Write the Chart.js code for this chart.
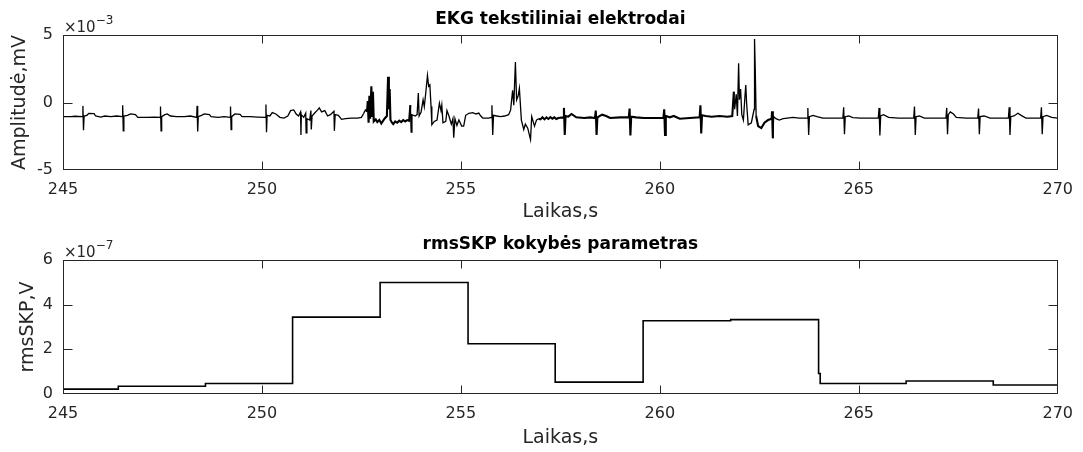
<!DOCTYPE html>
<html>
<head>
<meta charset="utf-8">
<script src="https://cdn.jsdelivr.net/npm/chart.js@4.4.1/dist/chart.umd.min.js"></script>
<style>
  html, body { margin: 0; padding: 0; background: #fff; }
  #wrap { position: relative; width: 1083px; height: 452px; }
  .pane { position: absolute; left: 0; width: 1083px; height: 226px; }
</style>
</head>
<body>
<div id="wrap">
  <div class="pane" style="top:0"><canvas id="ekgChart"></canvas></div>
  <div class="pane" style="top:226px"><canvas id="rmsChart"></canvas></div>
</div>
<script>
// ---- EKG trace: time (s) and amplitude (units of 10^-3 mV) ----
const ekgTime = [
  245.00,245.20,245.30,245.48,245.50,245.515,245.53,245.60,
  245.65,245.78,245.82,245.95,246.05,246.20,246.35,246.49,
  246.50,246.515,246.53,246.62,246.70,246.82,246.88,247.10,
  247.30,247.44,247.45,247.465,247.48,247.56,247.62,247.70,
  247.85,248.05,248.20,248.36,248.37,248.385,248.40,248.48,
  248.55,248.68,248.72,248.90,249.05,249.20,249.21,249.225,
  249.24,249.32,249.45,249.50,249.70,249.90,250.09,250.10,
  250.115,250.13,250.20,250.26,250.35,250.45,250.55,250.65,
  250.72,250.80,250.86,250.92,250.97,250.98,250.99,251.05,
  251.10,251.11,251.13,251.20,251.23,251.24,251.26,251.32,
  251.40,251.44,251.50,251.58,251.65,251.72,251.81,251.82,
  251.84,251.92,252.00,252.10,252.25,252.40,252.50,252.56,
  252.60,252.64,252.66,252.68,252.70,252.72,252.75,252.77,
  252.79,252.81,252.86,252.90,252.95,253.00,253.08,253.14,
  253.17,253.19,253.21,253.23,253.27,253.30,253.35,253.40,
  253.45,253.50,253.55,253.60,253.65,253.70,253.73,253.75,
  253.77,253.85,253.90,253.93,253.95,254.00,254.05,254.08,
  254.12,254.16,254.19,254.22,254.25,254.27,254.33,254.40,
  254.46,254.50,254.52,254.55,254.62,254.65,254.70,254.76,
  254.80,254.82,254.85,254.90,254.95,255.02,255.07,255.12,
  255.20,255.30,255.38,255.45,255.50,255.55,255.70,255.77,
  255.78,255.80,255.82,255.90,256.00,256.10,256.20,256.25,
  256.30,256.33,256.37,256.40,256.44,256.47,256.52,256.58,
  256.62,256.68,256.75,256.78,256.85,256.90,256.95,257.00,
  257.05,257.10,257.15,257.20,257.25,257.30,257.35,257.40,
  257.45,257.57,257.59,257.61,257.63,257.70,257.78,257.90,
  258.10,258.25,258.37,258.39,258.41,258.43,258.55,258.65,
  258.75,259.00,259.22,259.24,259.26,259.28,259.40,259.60,
  259.85,260.09,260.11,260.13,260.15,260.25,260.35,260.50,
  260.75,261.00,261.02,261.04,261.06,261.15,261.30,261.50,
  261.70,261.82,261.86,261.88,261.92,261.95,261.98,262.00,
  262.03,262.06,262.10,262.14,262.16,262.18,262.22,262.30,
  262.37,262.38,262.40,262.42,262.47,262.55,262.63,262.72,
  262.81,262.82,262.84,262.86,262.92,263.00,263.10,263.20,
  263.35,263.50,263.70,263.72,263.74,263.76,263.85,263.95,
  264.10,264.35,264.60,264.62,264.64,264.66,264.75,264.85,
  265.05,265.30,265.49,265.51,265.53,265.55,265.62,265.75,
  266.00,266.20,266.38,266.40,266.42,266.44,266.52,266.65,
  266.90,267.19,267.21,267.23,267.25,267.30,267.38,267.45,
  267.70,267.99,268.01,268.03,268.05,268.15,268.30,268.55,
  268.76,268.78,268.80,268.82,268.90,269.00,269.08,269.20,
  269.40,269.57,269.59,269.61,269.63,269.72,269.85,270.00
];
const ekgAmp = [
  -1.05,-1.05,-1.02,-1.05,-0.25,-2.05,-1.00,-0.95,
  -0.80,-0.82,-1.00,-1.08,-1.00,-1.05,-1.00,-1.05,
  -0.20,-2.10,-1.00,-0.95,-0.85,-0.90,-1.10,-1.10,
  -1.08,-1.10,-0.30,-2.10,-1.05,-0.90,-0.85,-1.00,
  -1.05,-1.05,-1.00,-1.10,-0.25,-2.15,-1.05,-0.95,
  -0.85,-0.90,-1.05,-1.10,-1.05,-1.10,-0.30,-2.00,
  -1.05,-0.85,-0.88,-1.05,-1.05,-1.08,-1.10,-0.15,
  -2.20,-0.95,-1.00,-0.75,-0.85,-1.10,-1.15,-1.00,
  -0.60,-0.55,-0.85,-1.00,-0.70,-2.40,-0.90,-1.10,
  -0.80,-2.25,-1.20,-1.30,-0.60,-2.00,-1.00,-0.80,
  -0.55,-0.40,-0.70,-0.60,-1.00,-0.90,-0.65,-2.10,
  -0.90,-0.95,-1.25,-1.20,-1.15,-1.15,-1.10,-0.80,
  -0.55,-0.70,0.10,-1.50,0.50,-1.20,1.20,-1.00,
  0.80,-1.40,-1.25,-1.45,-1.30,-1.55,-1.20,-1.00,
  1.90,-0.50,1.00,-1.30,-1.50,-1.60,-1.40,-1.50,
  -1.35,-1.45,-1.30,-1.40,-1.30,-1.35,-0.20,-2.20,
  -0.90,-1.00,-0.90,0.70,-1.00,-0.70,0.20,-0.30,
  0.80,2.00,1.20,1.30,-0.30,-1.65,-1.40,-1.30,
  -0.05,-0.60,-0.20,-1.50,-1.40,-0.60,-1.00,-1.60,
  -1.20,-2.60,-1.20,-1.70,-1.30,-1.75,-1.75,-0.95,
  -0.80,-0.75,-0.85,-0.78,-1.00,-1.15,-1.15,-1.10,
  -0.20,-2.40,-0.95,-1.00,-1.05,-1.00,-0.90,-0.55,
  0.90,-0.20,3.00,0.20,0.50,1.05,-1.30,-2.00,
  -1.60,-1.90,-2.75,-1.05,-1.75,-1.30,-1.20,-1.25,
  -1.10,-1.25,-1.10,-1.22,-1.08,-1.20,-1.10,-1.22,
  -1.15,-1.10,-0.40,-2.40,-1.00,-1.05,-0.85,-1.10,
  -1.15,-1.10,-1.15,-0.60,-2.40,-1.10,-0.90,-1.00,
  -1.15,-1.10,-1.10,-0.45,-2.45,-1.05,-1.10,-1.15,
  -1.15,-1.15,-0.50,-2.40,-1.00,-1.10,-1.00,-1.20,
  -1.15,-1.10,-0.20,-2.30,-0.95,-1.00,-1.05,-1.00,
  -1.05,-1.00,0.80,-0.50,0.60,-1.00,2.90,0.20,
  1.00,-0.90,-1.30,0.50,1.30,-0.03,-1.65,-1.50,
  -0.50,4.70,2.20,-1.00,-1.75,-1.90,-1.50,-1.30,
  -1.20,-0.65,-2.65,-1.05,-1.20,-1.30,-1.20,-1.15,
  -1.10,-1.15,-1.15,-0.40,-2.40,-1.05,-0.95,-1.05,
  -1.15,-1.15,-1.15,-0.35,-2.35,-1.05,-1.00,-1.12,
  -1.15,-1.15,-1.15,-0.40,-2.45,-1.00,-0.90,-1.10,
  -1.15,-1.15,-1.15,-0.30,-2.40,-1.05,-1.00,-1.15,
  -1.15,-1.15,-0.40,-2.35,-0.90,-0.70,-0.85,-1.10,
  -1.15,-1.15,-0.45,-2.35,-1.05,-1.00,-1.15,-1.15,
  -1.15,-0.35,-2.40,-1.05,-1.00,-0.80,-0.95,-1.15,
  -1.15,-1.15,-0.35,-2.35,-1.05,-0.95,-1.10,-1.15
];

// ---- rmsSKP quality parameter: window edges (s) and level per window (units of 10^-7 V) ----
const rmsEdges = [245.00, 246.39, 248.58, 250.77, 252.97, 255.18, 257.37, 259.58, 261.78, 263.99, 264.03, 266.19, 268.38, 270.00];
const rmsLevel = [0.22, 0.35, 0.47, 3.44, 4.99, 2.25, 0.53, 3.28, 3.33, 0.92, 0.47, 0.58, 0.40];

// ---- tick labels ----
const timeTicks = [245, 250, 255, 260, 265, 270];
const ekgTicks  = [-5, 0, 5];
const rmsTicks  = [0, 2, 4, 6];

const AXIS_GREY = '#262626';
const FONT = 'DejaVu Sans';
Chart.defaults.font.family = FONT;
Chart.defaults.color = AXIS_GREY;

// time spans where the trace is dense with fine noise and reads as a heavier line
const denseSpans = [[252.62, 253.72], [256.95, 261.85], [262.42, 262.82]];

// box, inward ticks on all four sides, and the ×10^n multiplier above the y axis
const matlabFrame = {
  id: 'matlabFrame',
  afterDraw(chart, args, opts) {
    const { ctx, chartArea: a, scales } = chart;
    const L = Math.round(a.left) + 0.5, R = Math.round(a.right) - 0.5;
    const T = Math.round(a.top) + 0.5,  B = Math.round(a.bottom) - 0.5;
    const clampX = v => Math.min(R, Math.max(L, v));
    const clampY = v => Math.min(B, Math.max(T, v));
    ctx.save();
    ctx.strokeStyle = AXIS_GREY;
    ctx.lineWidth = 1;
    ctx.strokeRect(L, T, R - L, B - T);
    ctx.beginPath();
    scales.x.ticks.forEach(t => {
      const px = clampX(Math.round(scales.x.getPixelForValue(t.value)) + 0.5);
      ctx.moveTo(px, B); ctx.lineTo(px, B - 8);
      ctx.moveTo(px, T); ctx.lineTo(px, T + 8);
    });
    scales.y.ticks.forEach(t => {
      const py = clampY(Math.round(scales.y.getPixelForValue(t.value)) + 0.5);
      ctx.moveTo(L, py); ctx.lineTo(L + 9, py);
      ctx.moveTo(R, py); ctx.lineTo(R - 9, py);
    });
    ctx.stroke();

    // multiplier label
    ctx.fillStyle = AXIS_GREY;
    ctx.textBaseline = 'alphabetic';
    ctx.textAlign = 'left';
    ctx.font = `15px "${FONT}"`;
    const base = a.top - 3.5;
    ctx.fillText('\u00D710', a.left + 1, base);
    const w = ctx.measureText('\u00D710').width;
    ctx.font = `12px "${FONT}"`;
    ctx.fillText('\u2212' + opts.exponent, a.left + 1 + w, base - 8);
    ctx.restore();
  }
};

function timeAxis(plotBottom) {
  return {
    type: 'linear',
    min: 245, max: 270,
    afterBuildTicks: s => { s.ticks = timeTicks.map(v => ({ value: v })); },
    afterFit: s => { s.height = 226 - plotBottom; },
    grid: { display: false, drawTicks: false },
    border: { display: false },
    ticks: { color: AXIS_GREY, font: { size: 16 }, padding: 10, maxRotation: 0, autoSkip: false,
             callback: v => String(v) },
    title: { display: true, text: 'Laikas,s', color: AXIS_GREY, font: { size: 19 }, padding: { top: 0, bottom: 3 } }
  };
}

function valueAxis(min, max, tickList, label, titleInset) {
  return {
    type: 'linear',
    min, max,
    afterBuildTicks: s => { s.ticks = tickList.map(v => ({ value: v })); },
    afterFit: s => { s.width = 63; },
    grid: { display: false, drawTicks: false },
    border: { display: false },
    ticks: { color: AXIS_GREY, font: { size: 16 }, padding: 10, callback: v => String(v) },
    title: { display: true, text: label, color: AXIS_GREY, font: { size: 19 }, padding: { top: titleInset, bottom: 0 } }
  };
}

function titleBlock(text, plotTop) {
  const lh = 17 * 1.2;
  const top = plotTop - lh - 5.5;
  return { display: true, text, color: '#000', fullSize: false,
           font: { size: 17, weight: 'bold' },
           padding: { top, bottom: plotTop - lh - top } };
}

const inDense = x => denseSpans.some(([a, b]) => x >= a && x <= b);

new Chart(document.getElementById('ekgChart'), {
  type: 'line',
  data: {
    datasets: [{
      data: ekgTime.map((t, i) => ({ x: t, y: ekgAmp[i] })),
      borderColor: '#000',
      borderWidth: 1.3,
      pointRadius: 0,
      tension: 0,
      segment: { borderWidth: c => inDense(c.p0.parsed.x) ? 2.1 : 1.3 }
    }]
  },
  options: {
    responsive: true, maintainAspectRatio: false, animation: false, devicePixelRatio: 1,
    layout: { padding: { left: 0, right: 23, top: 0, bottom: 0 } },
    plugins: {
      legend: { display: false }, tooltip: { enabled: false },
      title: titleBlock('EKG tekstiliniai elektrodai', 35),
      matlabFrame: { exponent: '3' }
    },
    scales: {
      x: timeAxis(170),
      y: valueAxis(-5, 5, ekgTicks, 'Amplitudė,mV', 9)
    }
  },
  plugins: [matlabFrame]
});

// step trace: each level holds from its window start to the next edge
const rmsPoints = rmsLevel.map((v, i) => ({ x: rmsEdges[i], y: v }));
rmsPoints.push({ x: rmsEdges[rmsEdges.length - 1], y: rmsLevel[rmsLevel.length - 1] });

new Chart(document.getElementById('rmsChart'), {
  type: 'line',
  data: {
    datasets: [{
      data: rmsPoints,
      borderColor: '#000',
      borderWidth: 1.6,
      pointRadius: 0,
      stepped: 'before'
    }]
  },
  options: {
    responsive: true, maintainAspectRatio: false, animation: false, devicePixelRatio: 1,
    layout: { padding: { left: 0, right: 23, top: 0, bottom: 0 } },
    plugins: {
      legend: { display: false }, tooltip: { enabled: false },
      title: titleBlock('rmsSKP kokybės parametras', 34),
      matlabFrame: { exponent: '7' }
    },
    scales: {
      x: timeAxis(168),
      y: valueAxis(0, 6, rmsTicks, 'rmsSKP,V', 17)
    }
  },
  plugins: [matlabFrame]
});
</script>
</body>
</html>
